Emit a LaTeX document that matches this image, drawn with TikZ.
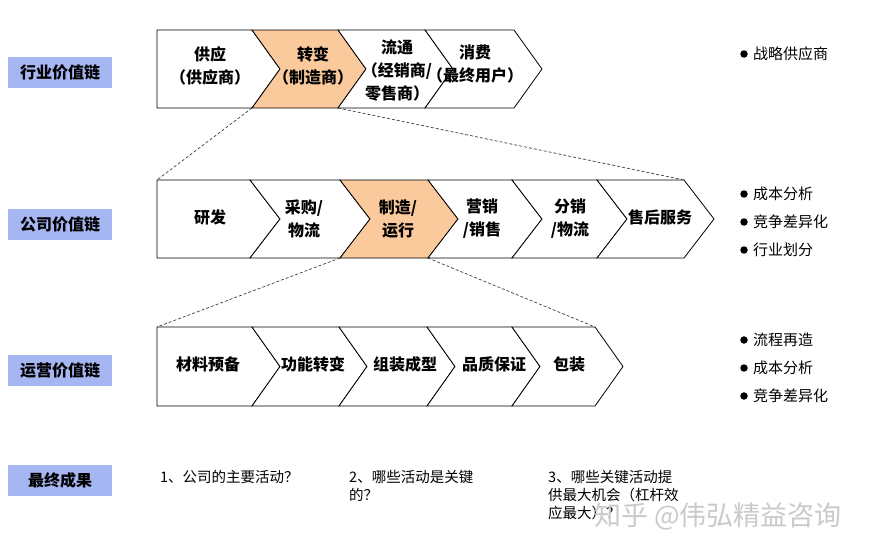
\documentclass[tikz,border=0pt]{standalone}
\usepackage{fontspec}
\setmainfont{Noto Sans CJK SC}
\definecolor{lblblue}{HTML}{A6B6F2}
\definecolor{peach}{HTML}{FAC99C}
\definecolor{wmgray}{HTML}{CACACA}
\tikzset{
 seg/.style={draw=black, line width=0.8pt, fill=white, line join=miter},
 hl/.style={seg, fill=peach},
 ctext/.style={font=\bfseries\fontsize{16}{23}\selectfont, align=center, inner sep=0pt},
 lbl/.style={fill=lblblue, minimum width=104pt, minimum height=31pt, inner sep=0pt, font=\bfseries\fontsize{16}{18}\selectfont},
 bul/.style={anchor=west, inner sep=0pt, font=\fontsize{15}{18}\selectfont},
 qtext/.style={anchor=north west, align=left, inner sep=0pt, font=\fontsize{14.5}{18}\selectfont},
 zoomline/.style={dash pattern=on 3pt off 2pt, line width=0.7pt, black!75},
 dotb/.style={circle, fill=black, inner sep=0pt, minimum size=7.5pt},
}
\newcommand{\segfirst}[6]{%
 \path[#1] (#2,#4) -- (#3,#4) -- ({#3+#6},{(#4+#5)/2}) -- (#3,#5) -- (#2,#5) -- cycle;}
\newcommand{\segnext}[6]{%
 \path[#1] (#2,#4) -- (#3,#4) -- ({#3+#6},{(#4+#5)/2}) -- (#3,#5) -- (#2,#5) -- ({#2+#6},{(#4+#5)/2}) -- cycle;}
\begin{document}
\begin{tikzpicture}[x=1pt,y=-1pt]
\path[fill=white, use as bounding box] (0,0) rectangle (884,554);

% ---------- Row 1 ----------
\segfirst{seg}{157}{252}{30}{108}{28}
\segnext{hl}{252}{338}{30}{108}{28}
\segnext{seg}{338}{425}{30}{108}{28}
\segnext{seg}{425}{514}{30}{108}{28}
\node[ctext] (r1a) at (210,66) {供应\\（供应商）};
\node[ctext] (r1b) at (313,66) {转变\\（制造商）};
\node[ctext] (r1c) at (397,71) {流通\\（经销商/\\零售商）};
\node[ctext] (r1d) at (475,64) {消费\\（最终用户）};
\coordinate (r1L) at (252,108);
\coordinate (r1R) at (338,108);

% ---------- Row 2 ----------
\segfirst{seg}{157}{250}{180}{258}{30}
\segnext{seg}{250}{340}{180}{258}{30}
\segnext{hl}{340}{428}{180}{258}{30}
\segnext{seg}{428}{512}{180}{258}{30}
\segnext{seg}{512}{597}{180}{258}{30}
\segnext{seg}{597}{684}{180}{258}{30}
\node[ctext] (r2a) at (210,217) {研发};
\node[ctext] (r2b) at (304,219) {采购/\\物流};
\node[ctext] (r2c) at (398,219) {制造/\\运行};
\node[ctext] (r2d) at (482,219) {营销\\/销售};
\node[ctext] (r2e) at (570,219) {分销\\/物流};
\node[ctext] (r2f) at (660,217) {售后服务};
\coordinate (r2TL) at (157,180);
\coordinate (r2TR) at (684,180);
\coordinate (r2L) at (340,258);
\coordinate (r2R) at (428,258);

% ---------- Row 3 ----------
\segfirst{seg}{157}{252}{327}{406}{28}
\segnext{seg}{252}{339}{327}{406}{28}
\segnext{seg}{339}{427}{327}{406}{28}
\segnext{seg}{427}{512}{327}{406}{28}
\segnext{seg}{512}{595}{327}{406}{28}
\node[ctext] (r3a) at (208,364) {材料预备};
\node[ctext] (r3b) at (313,364) {功能转变};
\node[ctext] (r3c) at (405,364) {组装成型};
\node[ctext] (r3d) at (494,364) {品质保证};
\node[ctext] (r3e) at (569,364) {包装};
\coordinate (r3TL) at (157,327);
\coordinate (r3TR) at (595,327);

% ---------- zoom lines ----------
\draw[zoomline] (r1L) -- (r2TL);
\draw[zoomline] (r1R) -- (r2TR);
\draw[zoomline] (r2L) -- (r3TL);
\draw[zoomline] (r2R) -- (r3TR);

% ---------- left labels ----------
\node[lbl] (l1) at (60,72.5) {行业价值链};
\node[lbl] (l2) at (60,224.5) {公司价值链};
\node[lbl] (l3) at (60,370.5) {运营价值链};
\node[lbl] (l4) at (60,480.5) {最终成果};

% ---------- bullets ----------
\node[dotb] (b1) at (744,54) {};  \node[bul] (t1) at (753,54) {战略供应商};
\node[dotb] (b2) at (744,194) {}; \node[bul] (t2) at (753,194) {成本分析};
\node[dotb] (b3) at (744,222) {}; \node[bul] (t3) at (753,222) {竞争差异化};
\node[dotb] (b4) at (744,250) {}; \node[bul] (t4) at (753,250) {行业划分};
\node[dotb] (b5) at (744,340) {}; \node[bul] (t5) at (753,340) {流程再造};
\node[dotb] (b6) at (744,368) {}; \node[bul] (t6) at (753,368) {成本分析};
\node[dotb] (b7) at (744,396) {}; \node[bul] (t7) at (753,396) {竞争差异化};

% ---------- questions ----------
\node[qtext] (q1) at (160,470) {1、公司的主要活动？};
\node[qtext] (q2) at (349,470) {2、哪些活动是关键\\的？};
\node[qtext] (q3) at (548,470) {3、哪些关键活动提\\供最大机会（杠杆效\\应最大）？};

% ---------- watermark ----------
\node[anchor=west, inner sep=0pt, text=wmgray, font=\fontsize{27}{29}\selectfont] (wm) at (594,516) {知乎 @伟弘精益咨询};
\end{tikzpicture}
\end{document}
